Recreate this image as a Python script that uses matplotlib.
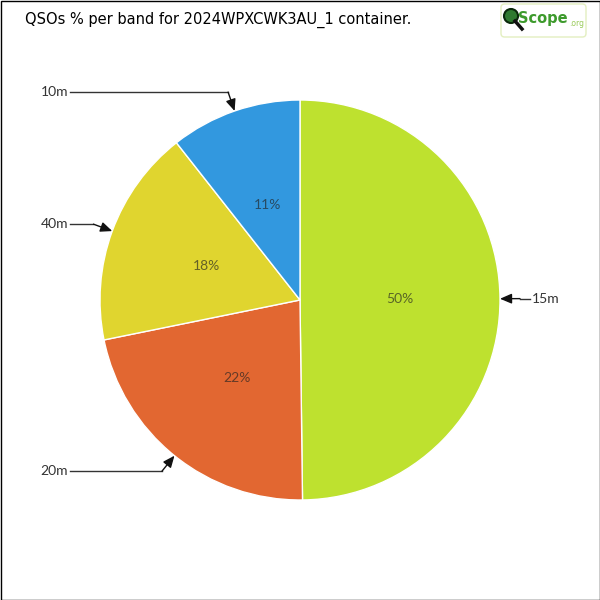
import numpy as np
import matplotlib.pyplot as plt
from matplotlib.patches import FancyBboxPatch, Rectangle, Circle

# QSO share per band (percent), clockwise from 12 o'clock
bands = ['15m', '20m', '40m', '10m']
shares = [49.8, 22.0, 17.6, 10.6]
colors = ['#bee12f', '#e26731', '#e0d52f', '#3298df']

title = 'QSOs % per band for 2024WPXCWK3AU_1 container.'

fig = plt.figure(figsize=(6, 6), dpi=100)
ax = fig.add_axes([0, 0, 1, 1])

wedges, texts, autotexts = ax.pie(
    shares, colors=colors, startangle=90, counterclock=False,
    autopct='%1.0f%%', pctdistance=0.5, radius=1.0,
    wedgeprops=dict(edgecolor='white', linewidth=1),
    textprops=dict(fontsize=10, color='#222222', alpha=0.65, family='Lato'))

# pie() resets limits, so set them afterwards
ax.set_xlim(-1.5, 1.5)
ax.set_ylim(-1.5, 1.5)
ax.set_aspect('equal')
ax.axis('off')

# labels with elbow connectors
for w, name in zip(wedges, bands):
    mid = np.deg2rad((w.theta1 + w.theta2) / 2)
    tip = (np.cos(mid), np.sin(mid))
    elbow = (1.1 * np.cos(mid), 1.1 * np.sin(mid))
    side = 1 if tip[0] > 0 else -1
    lx = 1.15 * side
    ax.plot([lx, elbow[0]], [elbow[1], elbow[1]], color='#333333', lw=1)
    ax.annotate('', xy=tip, xytext=elbow,
                arrowprops=dict(arrowstyle='-|>,head_length=0.7,head_width=0.3',
                                color='#111111', lw=1, shrinkA=0, shrinkB=0))
    ax.text(lx + 0.01 * side, elbow[1], name, ha='left' if side > 0 else 'right',
            va='center', fontsize=10, color='#333333', family='Lato')

fig.text(25 / 600, 1 - 20 / 600, title, ha='left', va='center',
         fontsize=10.5, color='black', family='DejaVu Sans')

# logo
fig.patches.append(FancyBboxPatch((501 / 600, 1 - 37 / 600), 85 / 600, 33 / 600,
                                  boxstyle='round,pad=0,rounding_size=0.006',
                                  transform=fig.transFigure, fc='white',
                                  ec='#e3efc0', lw=1))
fig.patches.append(Circle((511 / 600, 1 - 16 / 600), 7 / 600, transform=fig.transFigure,
                          fc='#2f7a2f', ec='#0b2a0b', lw=1.5))
fig.lines.append(plt.Line2D([515 / 600, 522 / 600], [1 - 21 / 600, 1 - 29 / 600],
                            transform=fig.transFigure, color='#111111', lw=2.5))
fig.text(518 / 600, 1 - 18 / 600, 'Scope', ha='left', va='center', fontsize=10.5,
         color='#3d9a2c', weight='bold', family='DejaVu Sans')
fig.text(569 / 600, 1 - 23 / 600, '.org', ha='left', va='center', fontsize=5.5,
         color='#9acb5a', family='DejaVu Sans')

# frame
fig.patches.append(Rectangle((0.5 / 600, 0.5 / 600), 599 / 600, 599 / 600,
                             transform=fig.transFigure, fill=False, ec='black', lw=1))

fig.savefig('out.png', dpi=100)
